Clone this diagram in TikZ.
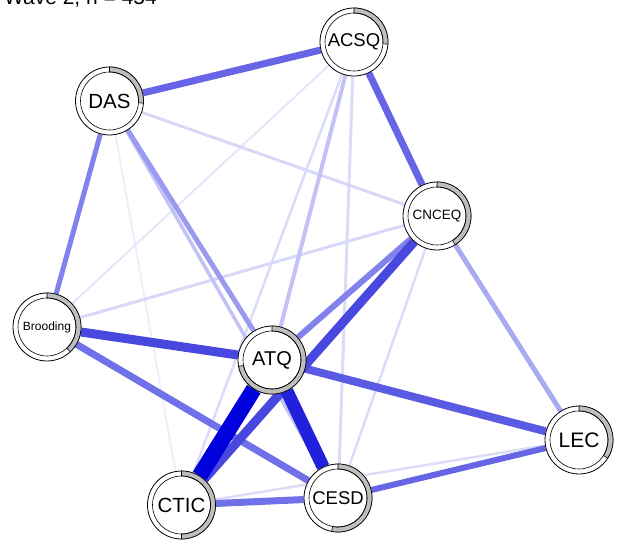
\documentclass[tikz,border=0pt]{standalone}
\usepackage{fontspec}
\setmainfont{Liberation Sans}
\usetikzlibrary{calc,backgrounds}

% edge colours, light to strong
\definecolor{wA}{HTML}{EEEEFC}
\definecolor{wB}{HTML}{E6E6FB}
\definecolor{wC}{HTML}{DCDCF9}
\definecolor{wD}{HTML}{D8D8F8}
\definecolor{wE}{HTML}{C2C2F6}
\definecolor{wF}{HTML}{AAAAF2}
\definecolor{wG}{HTML}{9A9AEF}
\definecolor{wH}{HTML}{8282EC}
\definecolor{wI}{HTML}{7070E8}
\definecolor{wJ}{HTML}{6565E6}
\definecolor{wK}{HTML}{5A5AE2}
\definecolor{wL}{HTML}{4848E1}
\definecolor{wM}{HTML}{2020DD}
\definecolor{wN}{HTML}{0000DD}
\definecolor{ringgray}{HTML}{BEBEBE}

\tikzset{
  qcirc/.style={circle, draw=black, fill=white, line width=0.8pt,
    minimum size=68pt, inner sep=0pt},
  ring/.style={fill=ringgray, draw=black, line width=0.6pt},
  inner/.style={draw=black, line width=0.6pt},
  edge/.style={line cap=butt},
}

% #1 name, #2 x, #3 y, #4 label, #5 filled fraction, #6 font size
\newcommand{\qgnode}[6]{%
  \node[qcirc, font=\fontsize{#6}{#6}\selectfont] (#1) at (#2,#3) {#4};
  \filldraw[ring] ($(#1.center)+(90:34pt)$)
    arc[start angle=90, end angle={90-#5*360}, radius=34pt]
    -- ($(#1.center)+({90-#5*360}:29pt)$)
    arc[start angle={90-#5*360}, end angle=90, radius=29pt] -- cycle;
  \draw[inner] (#1.center) circle[radius=29pt];
}

\begin{document}
\begin{tikzpicture}[x=1pt, y=1pt]
\useasboundingbox (0,0) rectangle (618,541);

\node[anchor=base east, font=\fontsize{21}{21}\selectfont, inner sep=0pt] (title)
  at (157,536) {Wave 2, n = 454};

\qgnode{acsq}{354}{499}{ACSQ}{0.26}{18.5}
\qgnode{das}{109.5}{440}{DAS}{0.26}{20.5}
\qgnode{cnceq}{437}{325}{CNCEQ}{0.41}{13.5}
\qgnode{brood}{47}{214}{Brooding}{0.38}{12}
\qgnode{atq}{272}{181}{ATQ}{0.72}{20}
\qgnode{lec}{579}{101}{LEC}{0.34}{21}
\qgnode{ctic}{181.5}{36}{CTIC}{0.5}{20.5}
\qgnode{cesd}{338}{43}{CESD}{0.53}{18.5}

\begin{scope}[on background layer]
  \draw[edge, draw=wA, line width=2pt]   (das) -- (ctic);
  \draw[edge, draw=wB, line width=2pt]   (acsq) -- (brood);
  \draw[edge, draw=wC, line width=2.5pt] (acsq) -- (ctic);
  \draw[edge, draw=wC, line width=2.5pt] (cnceq) -- (cesd);
  \draw[edge, draw=wC, line width=2.5pt] (ctic) -- (lec);
  \draw[edge, draw=wC, line width=3pt]   (acsq) -- (cesd);
  \draw[edge, draw=wD, line width=3pt]   (cnceq) -- (das);
  \draw[edge, draw=wD, line width=3pt]   (cnceq) -- (brood);
  \draw[edge, draw=wE, line width=3.5pt] (das) -- (cesd);
  \draw[edge, draw=wE, line width=4pt]   (acsq) -- (atq);
  \draw[edge, draw=wF, line width=5pt]   (cnceq) -- (lec);
  \draw[edge, draw=wG, line width=5pt]   (das) -- (atq);
  \draw[edge, draw=wH, line width=5pt]   (das) -- (brood);
  \draw[edge, draw=wH, line width=6pt]   (cnceq) -- (atq);
  \draw[edge, draw=wJ, line width=6pt]   (cesd) -- (lec);
  \draw[edge, draw=wI, line width=7pt]   (ctic) -- (cesd);
  \draw[edge, draw=wI, line width=7pt]   (brood) -- (cesd);
  \draw[edge, draw=wJ, line width=7pt]   (acsq) -- (cnceq);
  \draw[edge, draw=wJ, line width=7pt]   (das) -- (acsq);
  \draw[edge, draw=wK, line width=8pt]   (atq) -- (lec);
  \draw[edge, draw=wL, line width=9pt]   (cnceq) -- (ctic);
  \draw[edge, draw=wL, line width=9pt]   (brood) -- (atq);
  \draw[edge, draw=wM, line width=13pt]  (atq) -- (cesd);
  \draw[edge, draw=wN, line width=16pt]  (atq) -- (ctic);
\end{scope}
\end{tikzpicture}
\end{document}
